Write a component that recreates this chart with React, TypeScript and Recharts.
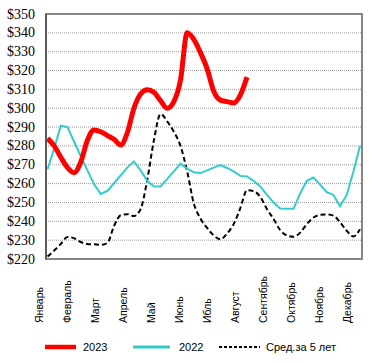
import React from 'react';
import { LineChart, Line, XAxis, YAxis, CartesianGrid, ReferenceArea } from 'recharts';

const MONTHS = ['Январь', 'Февраль', 'Март', 'Апрель', 'Май', 'Июнь', 'Ибль', 'Август', 'Сентябрь', 'Октябрь', 'Ноябрь', 'Декабрь'];
const MONTH_TICKS = [0, 1, 2, 3, 4, 5, 6, 7, 8, 9, 10, 11];
const Y_TICKS = [220, 230, 240, 250, 260, 270, 280, 290, 300, 310, 320, 330, 340, 350];

const SERIES_2023 = [284, 280, 274, 268.5, 265.8, 271.5, 283, 288.5, 287.5, 285.5, 283.5, 280.5, 287, 300, 307.5, 309.8, 308.5, 304, 300, 303.5, 315, 340, 336.5, 329.5, 321, 309, 304.3, 303.5, 302.8, 307, 316.5];
const SERIES_2022 = [267.6, 278.6, 290.7, 290, 282.2, 274.5, 267, 259.7, 254.5, 256.1, 260.2, 264.4, 268.5, 271.8, 267, 261.5, 258.5, 258.5, 262.5, 266.5, 270.6, 268, 266, 265.6, 267, 268.5, 269.8, 268.3, 266.5, 264.1, 263.8, 261.5, 258.5, 254, 250, 246.8, 246.6, 246.6, 254.8, 261.5, 263.2, 259.5, 255.5, 254, 248, 254, 266.3, 280];
const SERIES_AVG5 = [221.3, 224.5, 228, 231.7, 231, 229, 228, 227.8, 227.5, 228.5, 237.5, 243.2, 243.8, 242.8, 246.5, 262, 283, 297, 293, 287.5, 280, 266.5, 249.5, 241.5, 236.5, 232.5, 230.5, 233.5, 238.5, 247, 256.5, 256, 253, 246.5, 241.2, 235.3, 232.5, 231.8, 234, 238.5, 242, 243.4, 243.6, 243, 239.5, 235, 232, 235.8];

const data = SERIES_2022.map((v, i) => ({
  i,
  y2023: i < SERIES_2023.length ? SERIES_2023[i] : undefined,
  y2022: v,
  avg5: SERIES_AVG5[i],
}));

const WEEK_DOMAIN: [number, number] = [-0.23, 47.3];
const MONTH_DOMAIN: [number, number] = [-0.2, 11.114];
const LABEL_DX = -12.3;
const LABEL_DY = 64;
const SERIF = 'Liberation Serif, Times New Roman, DejaVu Serif, serif';
const SANS = 'Liberation Sans, Arial, sans-serif';

const MonthTick = (props: any) => {
  const { x, y, payload } = props;
  const cx = x + LABEL_DX;
  const by = y + LABEL_DY;
  return (
    <text
      transform={`translate(${cx},${by}) rotate(-90)`}
      textAnchor="start"
      dominantBaseline="central"
      style={{ fontSize: 10.5, fontFamily: SANS }}
      fill="#000"
    >
      {MONTHS[payload.value]}
    </text>
  );
};

const PriceTick = (props: any) => {
  const { x, y, payload } = props;
  return (
    <text
      x={x}
      y={y}
      textAnchor="end"
      dominantBaseline="central"
      style={{ fontSize: 14, fontFamily: SERIF }}
      fill="#000"
    >
      {`$${payload.value}`}
    </text>
  );
};

const LEGEND = [
  { label: '2023', color: '#FF0000', width: 4.5, dash: undefined as string | undefined, x1: 45, x2: 76, tx: 83 },
  { label: '2022', color: '#33CCCC', width: 3, dash: undefined as string | undefined, x1: 133, x2: 170, tx: 179 },
  { label: 'Сред.за 5 лет', color: '#000000', width: 2, dash: '3 2', x1: 219, x2: 260, tx: 266 },
];

export default function App() {
  return (
    <div style={{ position: 'absolute', left: 0, top: 0, width: 375, height: 363, background: '#fff' }}>
      <LineChart width={375} height={363} data={data} margin={{ top: 14, right: 13, left: 0, bottom: 0 }}>
        <CartesianGrid vertical={false} stroke="#9a9a9a" strokeDasharray="1 1" xAxisId="week" />
        <XAxis xAxisId="week" type="number" dataKey="i" domain={WEEK_DOMAIN} allowDataOverflow hide />
        <XAxis
          xAxisId="month"
          type="number"
          dataKey="m"
          domain={MONTH_DOMAIN}
          allowDataOverflow
          ticks={MONTH_TICKS}
          interval={0}
          height={104}
          axisLine={false}
          tickLine={false}
          tickSize={0}
          tickMargin={0}
          tick={<MonthTick />}
        />
        <YAxis
          type="number"
          domain={[220, 350]}
          ticks={Y_TICKS}
          interval={0}
          width={46}
          axisLine={{ stroke: '#5a5a5a', strokeWidth: 2 }}
          tickLine={false}
          tickSize={0}
          tickMargin={11}
          tick={<PriceTick />}
        />
        <ReferenceArea
          xAxisId="week"
          x1={WEEK_DOMAIN[0]}
          x2={WEEK_DOMAIN[1]}
          y1={220}
          y2={350}
          fill="none"
          stroke="#858585"
          strokeWidth={2}
          ifOverflow="visible"
        />
        <Line xAxisId="week" type="monotone" dataKey="avg5" stroke="#000" strokeWidth={2} strokeDasharray="5 3" dot={false} isAnimationActive={false} />
        <Line xAxisId="week" type="linear" dataKey="y2022" stroke="#33CCCC" strokeWidth={2} dot={false} isAnimationActive={false} />
        <Line xAxisId="week" type="monotone" dataKey="y2023" stroke="#FF0000" strokeWidth={5} dot={false} isAnimationActive={false} />
      </LineChart>
      <svg width={375} height={28} style={{ position: 'absolute', left: 0, top: 333 }}>
        {LEGEND.map((l) => (
          <g key={l.label}>
            <line x1={l.x1} x2={l.x2} y1={14} y2={14} stroke={l.color} strokeWidth={l.width} strokeDasharray={l.dash} />
            <text x={l.tx} y={14} dominantBaseline="central" style={{ fontSize: 11, fontFamily: SANS }} fill="#000">
              {l.label}
            </text>
          </g>
        ))}
      </svg>
    </div>
  );
}
